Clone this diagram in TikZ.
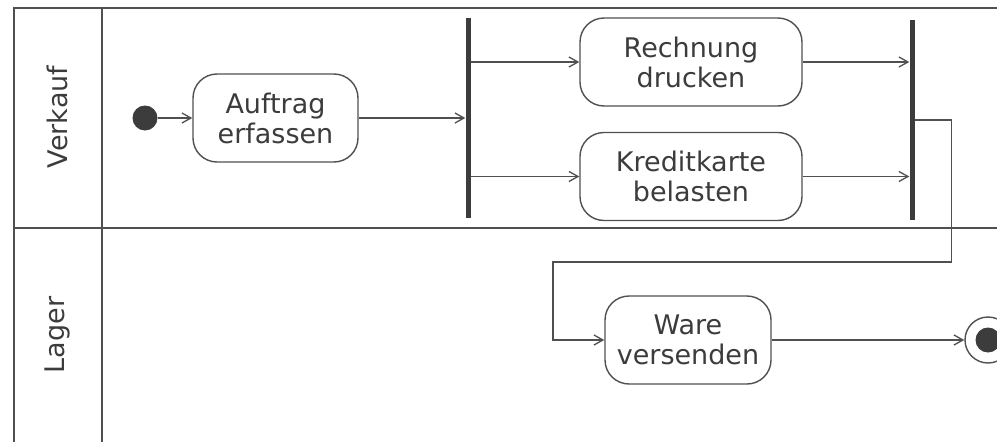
\documentclass[tikz,border=0pt]{standalone}
\usepackage{fontspec}
\setmainfont{DejaVu Sans}
\usetikzlibrary{arrows.meta}
\definecolor{ink}{HTML}{505050}
\definecolor{txt}{HTML}{3C3C3C}
\begin{document}
\begin{tikzpicture}[x=1pt,y=-1pt,
  frame/.style={draw=ink, line width=1.4pt},
  action/.style={draw=ink, line width=1.4pt, rounded corners=24pt, fill=white,
    text=txt, align=center, font=\fontsize{27}{30}\selectfont, inner sep=0pt,
    minimum height=88pt},
  syncbar/.style={fill=txt, draw=none, minimum width=5pt, minimum height=200pt, inner sep=0pt},
  flow/.style={draw=ink, line width=1.3pt,
    -{Straight Barb[length=9pt,width=10pt,line width=1.3pt]}},
  lane/.style={text=txt, font=\fontsize{27}{30}\selectfont, rotate=90, inner sep=0pt},
]
\useasboundingbox (0,0) rectangle (997,442);
\fill[white] (0,0) rectangle (997,442);

% swimlane frame
\draw[frame] (997,8) -- (14,8) -- (14,442);
\draw[frame] (102,8) -- (102,442);
\draw[frame] (14,228) -- (997,228);
\node[lane] (verkauf) at (57,117) {Verkauf};
\node[lane] (lager) at (57,335) {Lager};

% nodes
\node[circle, fill=txt, minimum size=25pt, inner sep=0pt] (start) at (145,118) {};
\node[action, minimum width=165pt] (auftrag) at (275.5,118) {Auftrag\\erfassen};
\node[syncbar] (fork) at (468,118) {};
\node[action, minimum width=222pt] (rech) at (691,62) {Rechnung\\drucken};
\node[action, minimum width=222pt] (kredit) at (691,176.5) {Kreditkarte\\belasten};
\node[syncbar] (join) at (912,120) {};
\node[action, minimum width=166pt] (ware) at (688,340) {Ware\\versenden};
\node[circle, draw=ink, line width=1.4pt, fill=white, minimum size=46pt, inner sep=0pt] (final) at (988,340) {};
\node[circle, fill=txt, minimum size=25pt, inner sep=0pt] (finaldot) at (final) {};

% flows
\draw[flow] (start) -- (auftrag);
\draw[flow] (auftrag) -- (fork);
\draw[flow] (fork.east |- rech) -- (rech);
\draw[flow] (fork.east |- kredit) -- (kredit);
\draw[flow] (rech) -- (join.west |- rech);
\draw[flow] (kredit) -- (join.west |- kredit);
\coordinate (turn) at (553,262);
\draw[flow] (join.east) -- ++(37,0) |- (turn) |- (ware.west);
\draw[flow] (ware) -- (final);
\end{tikzpicture}
\end{document}
